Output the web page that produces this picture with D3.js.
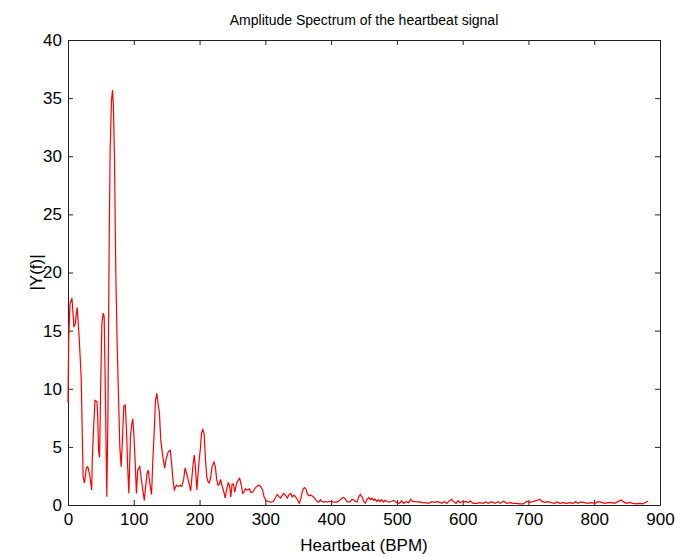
<!DOCTYPE html>
<html>
<head>
<meta charset="utf-8">
<script src="https://cdn.jsdelivr.net/npm/d3@7"></script>
<style>
  body { margin: 0; background: #fff; }
  text { font-family: "Liberation Sans", Arial, sans-serif; fill: #000; }
</style>
</head>
<body>
<div id="chart"></div>
<script>
// spectrum as [bpm, |Y(f)|] pairs, split by band
const lowBand = [
  [0, 8.8], [1, 14.1], [3, 17.3], [6, 17.8], [9, 15.3], [11, 15.6], [14, 17.0], [17, 14.4],
  [20, 11.0], [22, 5.3], [23, 2.4], [25, 1.9], [28, 3.2], [30, 3.3], [33, 2.6], [36, 1.3],
  [37, 4.0], [39, 6.7], [41, 9.0], [44, 8.9], [45, 7.9], [46.5, 4.7], [48, 4.1], [49.5, 9.6],
  [51.5, 15.6], [53.5, 16.5], [55, 16.2], [56.5, 10.7], [59, 0.7], [60.6, 7.3], [62.6, 22.5],
  [64, 30.3], [66, 34.7], [67.7, 35.7], [69, 34.4], [70.7, 29.7], [72.7, 19.9], [74.7, 13.9],
  [76.8, 9.3], [78.8, 5.0], [80.8, 3.3], [82.8, 5.7], [84.8, 8.5], [87, 8.6], [89, 6.4],
  [90.5, 3.6], [92.5, 1.0], [95, 5.9], [97, 7.0], [98.5, 7.4], [100, 6.2], [102, 3.9],
  [104, 1.0], [106, 3.0], [109, 3.3], [112, 2.0], [116, 0.4], [120, 2.7], [122, 3.0],
  [124, 2.0], [127, 0.9]
];

const midBand = [
  [129, 3.9], [131, 6.2], [133, 9.0], [135, 9.6], [137, 8.7], [139, 7.9], [141, 5.6],
  [144, 4.2], [147, 3.2], [149, 3.9], [152.5, 4.6], [155.5, 4.7], [157.5, 3.6], [159.5, 2.2],
  [161.6, 1.3], [164.7, 1.7], [167.6, 1.6], [170.7, 1.7], [173, 1.6], [175.8, 2.2], [178, 3.2],
  [181, 2.6], [182.5, 2.2], [185, 1.6], [186.5, 1.2], [190, 3.4], [192, 4.3], [194, 3.0],
  [196, 1.3], [197, 2.2], [199.5, 3.9], [201, 4.7], [203, 6.2], [205, 6.5], [207, 6.1],
  [209, 3.9], [211, 2.4], [213, 2.0], [215, 1.9], [217, 2.4], [219, 3.3], [222, 3.7],
  [224, 3.3], [226, 2.2], [228, 1.7], [230, 1.8], [232, 2.2], [234, 1.7], [237, 1.1],
  [239, 0.6], [241, 1.3], [243.5, 1.9], [245.5, 1.7], [247.5, 0.7], [249.5, 1.8], [251.5, 1.8],
  [253.5, 1.1], [256.5, 1.9], [259.5, 2.2], [261, 2.3], [263.5, 1.7], [265.6, 1.0], [267.5, 1.1],
  [269.7, 1.4], [271.7, 1.3], [273.7, 1.3], [275.7, 1.4], [277.8, 1.1], [280.8, 1.1],
  [283.8, 1.4], [286.8, 1.6], [289.8, 1.7], [292.8, 1.6], [295.9, 1.3], [298, 0.7], [301, 0.4]
];

const highBand = [
  [304, 0.3], [308, 0.25], [312, 0.3], [315.6, 0.65], [318, 0.9], [321, 0.7], [323, 0.6],
  [326, 0.85], [328, 1.0], [331, 0.8], [333.5, 0.6], [336, 0.9], [338.6, 1.0], [341, 0.7],
  [343.5, 0.85], [346, 0.7], [348.5, 0.5], [351.5, 0.15], [353.5, 0.45], [355.6, 1.0],
  [357.6, 1.4], [359.6, 1.5], [362, 1.35], [363.6, 1.0], [366, 0.8], [368.7, 0.85], [371, 0.8],
  [373.7, 0.65], [376, 0.5], [378.8, 0.3], [381, 0.25], [383.8, 0.45], [386, 0.3], [389, 0.25],
  [391.4, 0.3], [394, 0.25], [396.5, 0.3], [400, 0.3], [404, 0.25], [409, 0.25], [413, 0.4],
  [416.7, 0.6], [419, 0.65], [421.7, 0.5], [424, 0.3], [426.8, 0.25], [429.3, 0.3], [432, 0.5],
  [434, 0.45], [436.9, 0.3], [439.4, 0.25], [442, 0.7], [444.4, 0.9], [447, 0.7], [449.5, 0.3],
  [452, 0.15], [454.5, 0.45], [457, 0.65], [459.6, 0.45], [462, 0.6], [464.6, 0.4], [467, 0.5],
  [469.7, 0.3], [472, 0.45], [474.7, 0.3], [477, 0.45], [479.8, 0.25], [482, 0.4], [484.8, 0.3],
  [487.4, 0.25], [491, 0.3], [495, 0.4]
];

const tailBand = [
  [500, 0.2], [504, 0.14], [507, 0.37], [510, 0.14], [514, 0.29], [518, 0.2], [521, 0.49],
  [524, 0.29], [528, 0.29], [531, 0.26], [534, 0.29], [538, 0.2], [543, 0.2], [548, 0.14],
  [553, 0.29], [557, 0.23], [561, 0.29], [565, 0.23], [568, 0.14], [572, 0.29], [576, 0.14],
  [580, 0.37], [583, 0.49], [586, 0.29], [590, 0.14], [593, 0.37], [596, 0.2], [598, 0.26],
  [604, 0.29], [609, 0.23], [612, 0.34], [616, 0.14], [621, 0.14], [626, 0.2], [631, 0.14],
  [635, 0.26], [639, 0.14], [644, 0.29], [649, 0.14], [654, 0.29], [657, 0.14], [662, 0.32],
  [667, 0.14], [672, 0.2], [677, 0.14], [682, 0.14], [687, 0.09], [692, 0.09], [697, 0.3],
  [702, 0.23], [707, 0.29], [712, 0.37], [717, 0.49], [721, 0.29], [725, 0.23], [730, 0.29],
  [735, 0.2], [740, 0.14], [743, 0.26], [748, 0.14], [753, 0.2], [758, 0.14], [763, 0.2],
  [768, 0.14], [772, 0.29], [775, 0.14], [780, 0.26], [785, 0.2], [790, 0.14], [795, 0.2],
  [801, 0.14], [806, 0.29], [811, 0.23], [816, 0.14], [821, 0.2], [826, 0.23], [831, 0.14],
  [836, 0.29], [841, 0.43], [844, 0.29], [849, 0.14], [854, 0.23], [859, 0.14], [864, 0.09],
  [869, 0.14], [874, 0.09], [879, 0.26], [882, 0.32]
];

const xTicks = [0, 100, 200, 300, 400, 500, 600, 700, 800, 900];
const yTicks = [0, 5, 10, 15, 20, 25, 30, 35, 40];

(function () {
  const margin = { top: 40, right: 16, bottom: 52, left: 68 };

  const width = 676 - margin.left - margin.right;
  const height = 557 - margin.top - margin.bottom;

  const svg = d3
    .select("#chart")
    .append("svg")
    .attr("width", width + margin.left + margin.right)
    .attr("height", height + margin.top + margin.bottom)
    .append("g")
    .attr("transform", "translate(" + margin.left + "," + margin.top + ")");

  const xPositionScale = d3.scaleLinear().domain([0, 900]).range([0, width]);
  const yPositionScale = d3.scaleLinear().domain([0, 40]).range([height, 0]);

  const line = d3.line()
    .x(d => xPositionScale(d[0]))
    .y(d => yPositionScale(d[1]));

  const spectrum = lowBand.concat(midBand, highBand, tailBand);

  // matlab style: ticks point inwards on all four sides
  const frameColor = "#222";

  const xAxis = d3.axisBottom(xPositionScale)
    .tickValues(xTicks)
    .tickSizeInner(-5)
    .tickSizeOuter(0)
    .tickPadding(8);

  const yAxis = d3.axisLeft(yPositionScale)
    .tickValues(yTicks)
    .tickSizeInner(-5)
    .tickSizeOuter(0)
    .tickPadding(6);

  svg.append("g")
    .attr("class", "x-axis")
    .attr("transform", "translate(0," + height + ")")
    .call(xAxis);

  svg.append("g")
    .attr("class", "y-axis")
    .call(yAxis);

  svg.append("g")
    .attr("class", "top-axis")
    .call(d3.axisTop(xPositionScale).tickValues(xTicks).tickSizeInner(-5).tickSizeOuter(0).tickFormat(""));

  svg.append("g")
    .attr("class", "right-axis")
    .attr("transform", "translate(" + width + ",0)")
    .call(d3.axisRight(yPositionScale).tickValues(yTicks).tickSizeInner(-5).tickSizeOuter(0).tickFormat(""));

  svg.selectAll(".domain, .tick line").attr("stroke", frameColor);
  svg.selectAll(".tick text")
    .attr("font-size", "17px")
    .attr("font-family", '"Liberation Sans", Arial, sans-serif')
    .attr("fill", "#000");

  svg.append("path")
    .datum(spectrum)
    .attr("d", line)
    .attr("fill", "none")
    .attr("stroke", "#ff0000")
    .attr("stroke-width", 1.2);

  // title is a bit smaller than the axis labels in the original
  svg.append("text")
    .attr("x", width / 2)
    .attr("y", -15)
    .attr("text-anchor", "middle")
    .attr("font-size", "14px")
    .text("Amplitude Spectrum of the heartbeat signal");

  svg.append("text")
    .attr("x", width / 2)
    .attr("y", height + 46)
    .attr("text-anchor", "middle")
    .attr("font-size", "17px")
    .text("Heartbeat (BPM)");

  svg.append("text")
    .attr("transform", "translate(-26," + height / 2 + ") rotate(-90)")
    .attr("text-anchor", "middle")
    .attr("font-size", "17px")
    .text("|Y(f)|");
})();
</script>
</body>
</html>
